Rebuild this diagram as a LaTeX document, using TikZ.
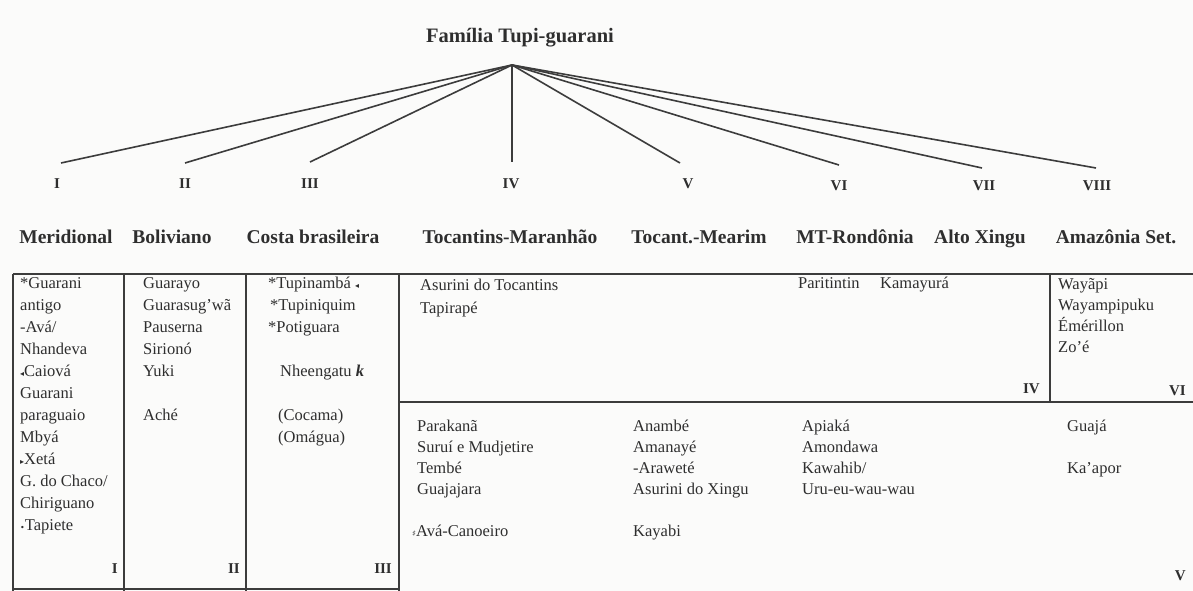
\documentclass[tikz,border=0pt]{standalone}
\usepackage{fontspec}
\setmainfont{Liberation Serif}
\newfontfamily\symfont{DejaVu Sans}
\definecolor{ink}{HTML}{2E2E2E}
\definecolor{rule}{HTML}{3C3C3C}
\definecolor{paper}{HTML}{FBFBFA}
\newcommand{\mk}[1]{{\symfont\fontsize{8}{8}\selectfont #1}}
\begin{document}
\begin{tikzpicture}[x=1pt,y=-1pt,
  every node/.style={inner sep=0pt, text=ink},
  title/.style={font=\bfseries\fontsize{20.5}{22}\selectfont},
  roman/.style={anchor=base, font=\bfseries\fontsize{15}{17}\selectfont},
  header/.style={anchor=base, font=\bfseries\fontsize{19.5}{21}\selectfont},
  body/.style={anchor=west, text height=11pt, text depth=3pt,
    font=\fontsize{16.5}{18}\selectfont},
  cellno/.style={anchor=base east, font=\bfseries\fontsize{15}{17}\selectfont},
  branch/.style={draw=rule, line width=1.6pt},
  grid/.style={draw=rule, line width=1.6pt}
]
\fill[paper] (0,0) rectangle (1193,591);
\useasboundingbox (0,0) rectangle (1193,591);

% family name and branching point
\node[title] (fam) at (520,38) {Família Tupi-guarani};
\coordinate (apex) at (512,65);

% ends of the eight branches
\coordinate (e1) at (61,163);
\coordinate (e2) at (185,163);
\coordinate (e3) at (310,162);
\coordinate (e4) at (512,162);
\coordinate (e5) at (680,163);
\coordinate (e6) at (839,165);
\coordinate (e7) at (982,168);
\coordinate (e8) at (1096,168);
\foreach \k in {1,...,8} \draw[branch] (apex) -- (e\k);

% subgroup numerals
\node[roman] (r1) at (57,188) {I};
\node[roman] (r2) at (185,188) {II};
\node[roman] (r3) at (310,188) {III};
\node[roman] (r4) at (511,188) {IV};
\node[roman] (r5) at (688,188) {V};
\node[roman] (r6) at (839,190) {VI};
\node[roman] (r7) at (984,190) {VII};
\node[roman] (r8) at (1097,190) {VIII};

% subgroup names
\node[header] (h1) at (66,243) {Meridional};
\node[header] (h2) at (172,243) {Boliviano};
\node[header] (h3) at (313,243) {Costa brasileira};
\node[header] (h4) at (510,243) {Tocantins-Maranhão};
\node[header] (h5) at (699,243) {Tocant.-Mearim};
\node[header] (h6) at (855,243) {MT-Rondônia};
\node[header] (h7) at (980,243) {Alto Xingu};
\node[header] (h8) at (1116,243) {Amazônia Set.};

% table rules
\draw[grid] (13,274) -- (1193,274);
\draw[grid] (399,402) -- (1193,402);
\draw[grid] (13,589) -- (399,589);
\draw[grid] (13,274) -- (13,591);
\draw[grid] (124,274) -- (124,591);
\draw[grid] (246,274) -- (246,591);
\draw[grid] (399,274) -- (399,591);
\draw[grid] (1050,274) -- (1050,402);

% column I
\foreach \t [count=\i from 0] in {*Guarani,antigo,-Avá/,Nhandeva,\mk{◂}Caiová,Guarani,paraguaio,Mbyá,\mk{▸}Xetá,G. do Chaco/,Chiriguano,\mk{•}Tapiete}
  \node[body] (a\i) at (20,{284+22*\i}) {\t};
\node[cellno] (n1) at (118,573) {I};

% column II
\foreach \t [count=\i from 0] in {Guarayo,Guarasug'wã,Pauserna,Sirionó,Yuki}
  \node[body] (b\i) at (143,{284+22*\i}) {\t};
\node[body] (b5) at (143,416) {Aché};
\node[cellno] (n2) at (240,573) {II};

% column III
\node[body] (c0) at (268,284) {*Tupinambá \mk{◂}};
\node[body] (c1) at (270,306) {*Tupiniquim};
\node[body] (c2) at (268,328) {*Potiguara};
\node[body] (c3) at (280,372) {Nheengatu \textbf{\textit{k}}};
\node[body] (c4) at (278,416) {(Cocama)};
\node[body] (c5) at (278,438) {(Omágua)};
\node[cellno] (n3) at (392,573) {III};

% upper block of the eastern groups
\node[body] (d0) at (420,286) {Asurini do Tocantins};
\node[body] (d1) at (420,309) {Tapirapé};
\node[body] (d2) at (798,284) {Paritintin};
\node[body] (d3) at (880,284) {Kamayurá};
\node[cellno] (n4) at (1040,393) {IV};
\foreach \t [count=\i from 0] in {Wayãpi,Wayampipuku,Émérillon,Zo'é}
  \node[body] (w\i) at (1058,{285+21*\i}) {\t};
\node[cellno] (n6) at (1186,395) {VI};

% lower block of the eastern groups
\foreach \t [count=\i from 0] in {Parakanã,Suruí e Mudjetire,Tembé,Guajajara}
  \node[body] (p\i) at (417,{427+21*\i}) {\t};
\node[body] (p4) at (412,532) {\mk{♯}Avá-Canoeiro};
\foreach \t [count=\i from 0] in {Anambé,Amanayé,-Araweté,Asurini do Xingu}
  \node[body] (q\i) at (633,{427+21*\i}) {\t};
\node[body] (q4) at (633,532) {Kayabi};
\foreach \t [count=\i from 0] in {Apiaká,Amondawa,Kawahib/,Uru-eu-wau-wau}
  \node[body] (s\i) at (802,{427+21*\i}) {\t};
\node[body] (g0) at (1067,427) {Guajá};
\node[body] (g1) at (1067,469) {Ka'apor};
\node[cellno] (n5) at (1186,580) {V};
\end{tikzpicture}
\end{document}
